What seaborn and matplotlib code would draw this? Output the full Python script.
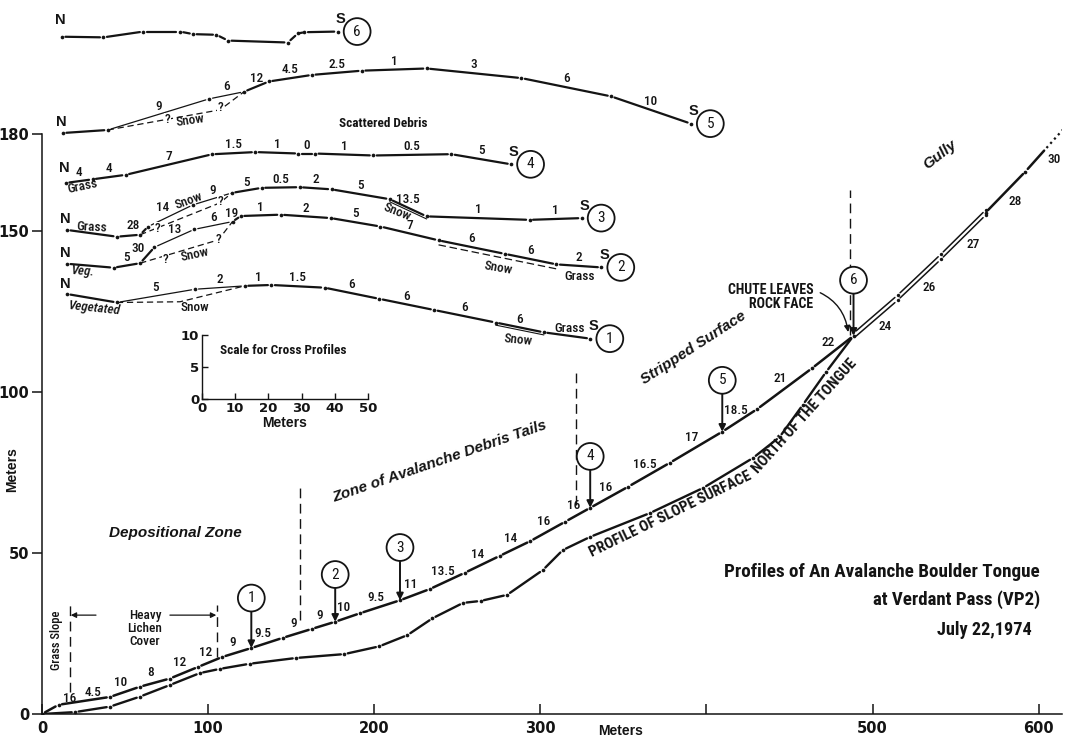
import numpy as np
import pandas as pd
import matplotlib
matplotlib.use("Agg")
import matplotlib.pyplot as plt
from matplotlib import font_manager as fm
import seaborn as sns

# ---------------------------------------------------------------- data
# Long profile of the boulder tongue: survey stations (horizontal metres)
# and the measured slope (degrees) of each leg between stations.
tongue_station_m = [0, 10, 41, 59, 77, 94, 108.5, 126, 145, 162.5, 176.5, 191.5,
                    215.5, 233.5, 254.5, 275.5, 294, 315, 330, 353, 378, 409.5,
                    430.5, 463.5, 488.5, 515, 541, 568, 592, 615]
tongue_slope_deg = [16, 4.5, 10, 8, 12, 12, 9, 9.5, 9, 9, 10, 9.5, 11, 13.5, 14,
                    14, 16, 16, 16, 16.5, 17, 18.5, 21, 22, 24, 26, 27, 28, 30]

# Profile of the slope surface north of the tongue (joins the tongue at the chute)
north_x_m = [0, 20, 41, 59, 77, 95, 107, 125, 153, 182, 203, 220, 235, 253.5, 264,
             280, 301.5, 313.5, 330, 366, 398, 428, 444, 458, 472]
north_elev_m = [0, 0.6, 2.3, 5.4, 9.0, 12.7, 14.0, 15.6, 17.4, 18.6, 21.0, 24.5,
                29.7, 34.5, 35.1, 37.0, 44.7, 50.9, 55.0, 62.4, 70.2, 79.5, 86.0,
                96.0, 106.2]

# Where the cross profiles cross the tongue
cross_profile_ids = [1, 2, 3, 4, 5, 6]
cross_profile_station_m = [126, 176.5, 215.5, 330, 409.5, 488.5]

# Cross profiles (N -> S): leg length (m) and signed slope (deg, + rising to the S)
cp1_leg_m = [15, 23.5, 15, 8, 16, 16.5, 16.5, 18.5, 14.5, 14]
cp1_slope_deg = [-5, 5, 2, 1, -1.5, -6, -6, -6, -6, -4]
cp1_unlabeled = [0, 9]
cp2_leg_m = [14, 8, 4.3, 12, 11.5, 2.5, 12, 15, 15, 17.5, 20, 15.5, 13.5]
cp2_slope_deg = [-2.5, 5, 30, 13, 6, 19, 1, -2, -5, -7, -6, -6, -2]
cp2_unlabeled = [0]
cp3_leg_m = [15, 7, 2.4, 13.5, 11.7, 9, 11.4, 9.6, 17.5, 11.1, 31, 15.7]
cp3_slope_deg = [-4, 2.5, 28, 14, 9, 5, 0.5, -2, -5, -13.5, -1, 1]
cp3_unlabeled = [0, 1]
cp4_leg_m = [8, 10, 26, 13, 13, 5, 17.5, 23.5, 18]
cp4_slope_deg = [4, 4, 7, 1.5, -1, 0, -1, 0.5, -5]
cp4_unlabeled = []
cp5_leg_m = [13.5, 30.5, 10.5, 7.5, 13, 15, 19.5, 28.5, 27, 24]
cp5_slope_deg = [2, 9, 6, 12, 4.5, 2.5, 1, -3, -6, -10]
cp5_unlabeled = [0]
# Cross profile 6 (no slope readings): distance (m) and relative height (m)
cp6_dist_m = [0, 12.5, 24.5, 35.5, 39.5, 46.5, 50, 68, 71, 73, 83]
cp6_rel_h_m = [0, -0.1, 0.8, 0.8, 0.4, 0.3, -0.6, -0.9, 0.5, 0.7, 0.8]

# Uncertain snow-surface routes: (from station, bend point (m, m), to station)
cp1_snow_route = (1, (34, -1.2), 3)
cp2_snow_route = (2, (45.5, 3.7), 5)
cp3_snow_route = (2, (46, 4.2), 5)
cp5_snow_route = (1, (47.3, 3.6), 3)

# Surface notes on the cross profiles: (text, distance m, relative height m, angle)
cp1_notes = [("Vegetated", 8.4, -2.15, -6), ("Snow", 38.5, -2.15, 0),
             ("Snow", 135.75, -7.1, -6), ("Grass", 151.4, -5.4, 0)]
cp2_notes = [("Veg.", 4.8, -1.25, -4), ("?", 29.5, 0.6, 0), ("?", 45.45, 3.7, 0),
             ("Snow", 38.5, 1.35, 12), ("Snow", 129.7, -0.65, -10),
             ("Grass", 154.4, -2.05, 0)]
cp3_notes = [("Grass", 7.5, 0.45, -3), ("?", 27.35, 0.15, 0), ("?", 46.05, 4.35, 0),
             ("Snow", 36.6, 4.6, 20), ("Snow", 99.3, 2.8, -22)]
cp4_notes = [("Grass", 5.15, -0.6, 12)]
cp5_notes = [("?", 31.35, 2.05, 0), ("?", 47.3, 3.9, 0), ("Snow", 38.25, 1.9, 8),
             ("Scattered Debris", 96.35, 1.55, 0)]

# Zone boundaries along the long profile
zone_bound_x = [16.9, 105.4, 155.4, 321.5, 486.5]
zone_bound_lo = [6.8, 17.7, 29.2, 64.9, 117.7]
zone_bound_hi = [33.9, 33.9, 71.7, 105.9, 162.7]

# ---------------------------------------------------------------- style
sns.set_theme(style="ticks")
_installed = {f.name for f in fm.fontManager.ttflist}
_condensed = [n for n in ("Roboto Condensed", "Liberation Sans Narrow",
                          "Open Sans Condensed", "DejaVu Sans Condensed")
              if n in _installed]
NARROW = _condensed[:1] + ["Roboto", "Liberation Sans", "DejaVu Sans"]
WIDE = ["Liberation Sans", "DejaVu Sans"]
plt.rcParams["font.family"] = NARROW
INK = "#141414"
SMALL = 9.5 if _condensed else 9.0

fig = plt.figure(figsize=(10.66, 7.37), dpi=100)
fig.patch.set_facecolor("white")
ax = fig.add_axes([42 / 1066, 23 / 737, 1020 / 1066, 714 / 737])
ax.set_facecolor("none")
ax.set_xlim(0, 614)
ax.set_ylim(0, 221.7)
ax.set_autoscale_on(False)
renderer = fig.canvas.get_renderer()

CROSS_SCALE = 2.0   # 1 m on the cross profiles spans 2 m of the long-profile axes


def fit_width(t, target_px):
    """Scale a text's font size so its unrotated width matches target_px."""
    rot = t.get_rotation()
    t.set_rotation(0)
    w = t.get_window_extent(renderer).width
    t.set_fontsize(t.get_fontsize() * target_px / w)
    t.set_rotation(rot)
    return t


def gapped_legs(x, y, gap_px=3.5, dy=0.0):
    """Shorten every leg at both ends so the station dots stand free."""
    pts = ax.transData.transform(np.column_stack([x, np.asarray(y, float) + dy]))
    inv = ax.transData.inverted()
    recs = []
    for i in range(len(pts) - 1):
        a, b = pts[i], pts[i + 1]
        v = b - a
        n = np.hypot(*v)
        u = v / n if n else v
        g = min(gap_px, 0.3 * n)
        seg = inv.transform(np.vstack([a + u * g, b - u * g]))
        recs.append({"x": seg[0, 0], "y": seg[0, 1], "leg": i})
        recs.append({"x": seg[1, 0], "y": seg[1, 1], "leg": i})
    return pd.DataFrame(recs)


def draw_legs(x, y, lw, legs=None, dy=0.0, gap_px=3.5):
    df = gapped_legs(x, y, gap_px, dy)
    if legs is not None:
        df = df[df["leg"].isin(legs)]
    if df.empty:
        return
    sns.lineplot(data=df, x="x", y="y", units="leg", estimator=None, sort=False,
                 color=INK, lw=lw, ax=ax, legend=False, zorder=3)


def draw_stations(x, y, dy=0.0, s=7):
    sns.scatterplot(x=np.asarray(x, float), y=np.asarray(y, float) + dy, s=s,
                    color=INK, linewidth=0, ax=ax, legend=False, zorder=4)


CIRCLE = dict(boxstyle="circle,pad=0.42", fc="white", ec=INK, lw=1.3)


def circled(n, xy, off, fs=11):
    ax.annotate(str(n), xy, xytext=off, textcoords="offset points", ha="center",
                va="center", fontsize=fs, color=INK, zorder=6, bbox=CIRCLE)


def label(xy, text, off, **kw):
    kw.setdefault("fontsize", SMALL)
    ax.annotate(text, xy, xytext=off, textcoords="offset points", ha="center",
                va="center", color=INK, fontweight="medium", **kw)


# ---------------------------------------------------------------- long profile
tx = np.asarray(tongue_station_m, float)
ty = np.concatenate([[0], np.cumsum(np.diff(tx) * np.tan(np.radians(tongue_slope_deg)))])

single_legs = list(range(24)) + [27]
double_legs = [24, 25, 26]
draw_legs(tx, ty, 1.8, legs=single_legs)
for off in (0.8, -0.8):
    draw_legs(tx, ty, 1.1, legs=double_legs, dy=off)
    draw_stations(tx[25:28], ty[25:28], dy=off, s=6)
draw_stations(np.r_[tx[:25], tx[27:29]], np.r_[ty[:25], ty[27:29]])

# last leg fades out into the gully
tail_x = tx[28] + 0.55 * (tx[29] - tx[28])
tail_y = ty[28] + 0.55 * (ty[29] - ty[28])
draw_legs([tx[28], tail_x], [ty[28], tail_y], 1.8)
ax.plot([tail_x, tx[29]], [tail_y, ty[29]], ls=(0, (1, 1.6)), lw=1.6, color=INK)

# north slope surface
nx = np.r_[north_x_m, tx[24]]
ny = np.r_[north_elev_m, ty[24]]
draw_legs(nx, ny, 1.7)
draw_stations(nx[:-1], ny[:-1])

# slope angle of each leg
tongue_label_off = {0: (14, 8), 1: (6, 6)}
for i, s in enumerate(tongue_slope_deg):
    xm, ym = (tx[i] + tx[i + 1]) / 2, (ty[i] + ty[i + 1]) / 2
    off = (7, -7) if tx[i] >= 488.5 else (-3, 7)
    label((xm, ym), f"{s:g}", tongue_label_off.get(i, off))

# cross-profile locations
circle_rise_pt = [36, 34, 38, 37, 37, 40]
cy = np.interp(cross_profile_station_m, tx, ty)
for n, x0, y0, rise in zip(cross_profile_ids, cross_profile_station_m, cy, circle_rise_pt):
    ax.annotate(str(n), (x0, y0), xytext=(0, rise), textcoords="offset points",
                ha="center", va="center", fontsize=11, color=INK, zorder=6, bbox=CIRCLE,
                arrowprops=dict(arrowstyle="-|>", color=INK, lw=1.4, shrinkA=0,
                                shrinkB=0, mutation_scale=10))

# zone boundaries
ax.vlines(zone_bound_x, zone_bound_lo, zone_bound_hi, colors=INK, lw=1.0,
          linestyles=[(0, (7, 4))], zorder=2)

# ---------------------------------------------------------------- cross profiles
anchors = {1: (15.1, 130.4), 2: (15.1, 139.8), 3: (15.1, 150.3),
           4: (14.4, 164.9), 5: (12.6, 180.4), 6: (12.0, 210.3)}
cross = {
    1: dict(leg=cp1_leg_m, slope=cp1_slope_deg, unl=cp1_unlabeled, thin=[1, 2],
            snow=cp1_snow_route, double=[8], notes=cp1_notes, lab={}),
    2: dict(leg=cp2_leg_m, slope=cp2_slope_deg, unl=cp2_unlabeled, thin=[3, 4],
            snow=cp2_snow_route, double=[], notes=cp2_notes,
            lab={2: (-7, 5), 5: (-4, 4)}),
    3: dict(leg=cp3_leg_m, slope=cp3_slope_deg, unl=cp3_unlabeled, thin=[3, 4],
            snow=cp3_snow_route, double=[9], notes=cp3_notes,
            lab={2: (-8, 4), 3: (-6, 6)}),
    4: dict(leg=cp4_leg_m, slope=cp4_slope_deg, unl=cp4_unlabeled, thin=[],
            snow=None, double=[], notes=cp4_notes, lab={}),
    5: dict(leg=cp5_leg_m, slope=cp5_slope_deg, unl=cp5_unlabeled, thin=[1, 2],
            snow=cp5_snow_route, double=[], notes=cp5_notes, lab={}),
}
n_offset = {1: 7, 2: 8, 3: 8, 4: 11, 5: 8, 6: 12}


def place(anchor, d, h):
    return (anchor[0] + CROSS_SCALE * np.asarray(d, float),
            anchor[1] + CROSS_SCALE * np.asarray(h, float))


def finish_profile(pid, X, Y):
    ax.annotate("N", (X[0], Y[0]), xytext=(-1, n_offset[pid]), textcoords="offset points",
                ha="center", va="center", fontsize=10.5, fontweight="bold", color=INK,
                family=WIDE)
    ax.annotate("S", (X[-1], Y[-1]), xytext=(2, 9), textcoords="offset points",
                ha="center", va="center", fontsize=10.5, fontweight="bold", color=INK,
                family=WIDE)
    circled(pid, (X[-1], Y[-1]), (14, 0))


for pid, p in cross.items():
    a = anchors[pid]
    d = np.concatenate([[0], np.cumsum(p["leg"])])
    h = np.concatenate([[0], np.cumsum(np.asarray(p["leg"]) * np.tan(np.radians(p["slope"])))])
    X, Y = place(a, d, h)
    nlegs = len(p["leg"])
    thick = [i for i in range(nlegs) if i not in p["thin"]]
    draw_legs(X, Y, 1.6, legs=thick)
    draw_legs(X, Y, 0.9, legs=p["thin"])
    draw_stations(X, Y)
    for i in p["double"]:
        ax.plot(X[i:i + 2], Y[i:i + 2] - 0.8, lw=0.8, color=INK)
    if p["snow"] is not None:
        s0, (md, mh), s1 = p["snow"]
        mx, my = place(a, md, mh)
        ax.plot([X[s0], mx, X[s1]], [Y[s0], my, Y[s1]], lw=0.9, color=INK,
                ls=(0, (5, 3)), zorder=2)
    if pid == 2:
        ax.plot(X[10:13], Y[10:13] - 1.4, lw=0.9, color=INK, ls=(0, (6, 3)))
    for i, s in enumerate(p["slope"]):
        if i in p["unl"]:
            continue
        label(((X[i] + X[i + 1]) / 2, (Y[i] + Y[i + 1]) / 2), f"{abs(s):g}",
              p["lab"].get(i, (0, 6)))
    for text, nd, nh, rot in p["notes"]:
        qx, qy = place(a, nd, nh)
        kw = dict(ha="center", va="center", rotation=rot, color=INK, fontsize=SMALL,
                  rotation_mode="anchor", fontweight="medium")
        if text == "?":
            kw["bbox"] = dict(boxstyle="square,pad=0.05", fc="white", ec="none")
            kw["zorder"] = 5
        if text in ("Veg.", "Vegetated"):
            kw["style"] = "italic"
        if text == "Scattered Debris":
            kw["fontweight"] = "bold"
        ax.text(qx, qy, text, **kw)
    finish_profile(pid, X, Y)

X6, Y6 = place(anchors[6], cp6_dist_m, cp6_rel_h_m)
draw_legs(X6, Y6, 1.6)
draw_stations(X6, Y6)
finish_profile(6, X6, Y6)

# ---------------------------------------------------------------- scale inset
axi = ax.inset_axes([96.3, 97.8, 100, 20], transform=ax.transData)
axi.set_facecolor("none")
axi.set_xlim(0, 50)
axi.set_ylim(0, 10)
axi.set_xticks(range(0, 51, 10))
axi.set_yticks([0, 5, 10])
sns.despine(ax=axi)
for sp in ("left", "bottom"):
    axi.spines[sp].set_linewidth(1.0)
    axi.spines[sp].set_color(INK)
axi.tick_params(direction="in", length=4, width=1, pad=2, labelsize=9.5,
                labelcolor=INK, color=INK, labelfontfamily="DejaVu Sans")
for lab in axi.get_xticklabels() + axi.get_yticklabels():
    lab.set_fontweight("bold")
axi.set_xlabel("Meters", fontsize=10, fontweight="bold", family=WIDE, labelpad=1, color=INK)
axi.set_ylabel("")
axi.text(5.5, 7.5, "Scale for Cross Profiles", fontsize=9.5, fontweight="bold",
         ha="left", va="center", color=INK)

# ---------------------------------------------------------------- annotations
ital = dict(style="italic", fontweight="bold", family=WIDE, color=INK, ha="center",
            va="center", rotation_mode="anchor")
ax.text(80.1, 56.2, "Depositional Zone", fontsize=11, **ital)
ax.text(239.6, 78.3, "Zone of Avalanche Debris Tails", fontsize=11, rotation=19, **ital)
ax.text(392.0, 113.7, "Stripped Surface", fontsize=11, rotation=33, **ital)
ax.text(540.6, 173.6, "Gully", fontsize=11, rotation=38, **ital)

caps = dict(fontweight="bold", color=INK, ha="center", va="center", rotation_mode="anchor",
            fontsize=11)
fit_width(ax.text(378.5, 62.0, "PROFILE OF SLOPE SURFACE", rotation=26, **caps), 178)
fit_width(ax.text(459.0, 92.5, "NORTH OF THE TONGUE", rotation=48, **caps), 148)

ax.text(9.0, 23.0, "Grass Slope", rotation=90, fontsize=9, ha="center", va="center",
        color=INK, fontweight="medium")
ax.text(62.0, 26.7, "Heavy\nLichen\nCover", fontsize=9.5, ha="center", va="center",
        linespacing=1.0, color=INK, fontweight="medium")
for x_from, x_to in ((32.5, 17.3), (77.0, 104.9)):
    ax.annotate("", (x_to, 30.7), xytext=(x_from, 30.7),
                arrowprops=dict(arrowstyle="-|>", color=INK, lw=0.9, shrinkA=0,
                                shrinkB=0, mutation_scale=8))

ax.annotate("CHUTE LEAVES\nROCK FACE", (485.3, 118.6), xytext=(464.2, 129.5),
            ha="right", va="center", multialignment="right",
            fontsize=10 if _condensed else 8.5,
            fontweight="bold", linespacing=1.05, color=INK,
            arrowprops=dict(arrowstyle="-|>", color=INK, lw=1.0, mutation_scale=9,
                            connectionstyle="arc3,rad=-0.3", relpos=(1.0, 0.75),
                            shrinkA=3, shrinkB=0))

title_kw = dict(fontweight="bold", ha="right", va="center", color=INK, fontsize=14)
fit_width(ax.text(600.8, 44.1, "Profiles of An Avalanche Boulder Tongue", **title_kw), 318)
fit_width(ax.text(600.8, 35.4, "at Verdant Pass (VP2)", **title_kw), 168)
fit_width(ax.text(596.0, 26.1, "July 22,1974", **title_kw), 95)

# ---------------------------------------------------------------- axes
sns.despine(ax=ax)
ax.spines["left"].set_bounds(0, 180)
ax.spines["bottom"].set_bounds(0, 614)
for sp in ("left", "bottom"):
    ax.spines[sp].set_linewidth(1.1)
    ax.spines[sp].set_color(INK)
ax.set_yticks([0, 50, 100, 150, 180])
ax.set_xticks([0, 100, 200, 300, 400, 500, 600])
ax.set_xticklabels(["0", "100", "200", "300", "", "500", "600"])
ax.tick_params(axis="y", direction="out", length=7, width=1.1, pad=2)
ax.tick_params(axis="x", direction="in", length=7, width=1.1, pad=5)
ax.tick_params(labelsize=10.5, labelcolor=INK, color=INK, labelfontfamily="DejaVu Sans")
for lab in ax.get_xticklabels() + ax.get_yticklabels():
    lab.set_fontweight("bold")
ax.set_xlabel("Meters", fontsize=10, fontweight="bold", family=WIDE, color=INK)
ax.xaxis.set_label_coords(0.567, -0.0238)
ax.xaxis.label.set_va("center")
ax.set_ylabel("Meters", fontsize=10, fontweight="bold", family=WIDE, color=INK)
ax.yaxis.set_label_coords(-0.0294, 0.342)
ax.yaxis.label.set_va("center")
ax.set_xlim(0, 614)
ax.set_ylim(0, 221.7)

fig.savefig("out.png", dpi=100, facecolor="white")
